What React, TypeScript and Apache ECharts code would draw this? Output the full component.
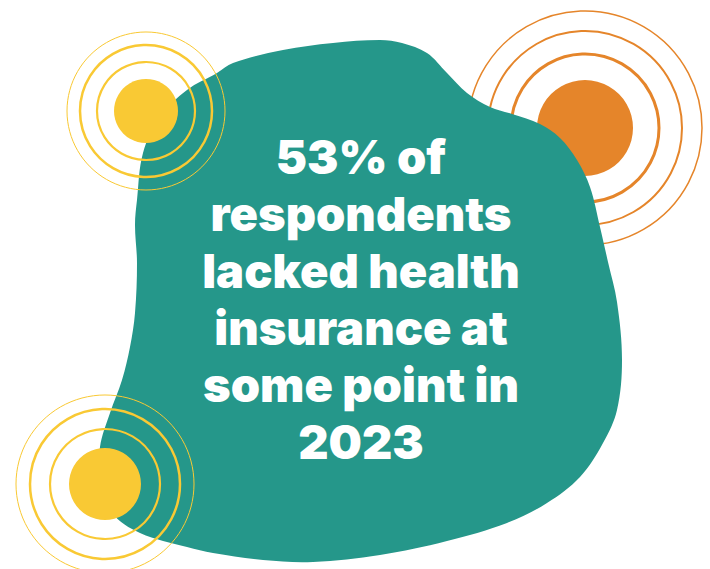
import React, { useEffect, useRef } from "react";
import * as echarts from "echarts";

// Data
const statPercent = 53;
const statYear = 2023;
const statLines = [
  `${statPercent}% of`,
  "respondents",
  "lacked health",
  "insurance at",
  "some point in",
  `${statYear}`,
];

// Blob outline (shape)
const blobOutline: number[][] = [
  [137, 200], [143, 153], [160, 117], [187, 90], [217, 73], [233, 63],
  [283, 50], [333, 43], [380, 40], [402, 43], [427, 53], [447, 73],
  [467, 93], [490, 107], [512, 114], [540, 124], [560, 138], [577, 160],
  [590, 187], [600, 227], [608, 262], [617, 302], [622, 360], [617, 410],
  [603, 443], [580, 477], [547, 503], [507, 523], [447, 541], [380, 555],
  [313, 562], [263, 560], [213, 553], [187, 547], [140, 533], [112, 513],
  [100, 482], [100, 447], [110, 413], [122, 380], [130, 347], [135, 313],
  [137, 263], [135, 225],
];

const TEAL = "#25978A";
const YELLOW = "#F9C934";
const ORANGE = "#E5852A";

type Burst = { cx: number; cy: number; r: number; rings: [number, number][]; color: string };

const orangeBurst: Burst = {
  cx: 585, cy: 128, r: 48, color: ORANGE,
  rings: [[74, 3], [97, 2], [117, 1.5]],
};
const yellowTop: Burst = {
  cx: 146, cy: 111, r: 32, color: YELLOW,
  rings: [[49, 2.2], [66, 2.5], [79, 1]],
};
const yellowBottom: Burst = {
  cx: 105, cy: 484, r: 36, color: YELLOW,
  rings: [[55, 2.2], [75, 2.5], [89, 1]],
};

function burstElements(b: Burst) {
  const els: any[] = [
    { type: "circle", shape: { cx: b.cx, cy: b.cy, r: b.r }, style: { fill: b.color } },
  ];
  b.rings.forEach(([r, lw]) => {
    els.push({
      type: "circle",
      shape: { cx: b.cx, cy: b.cy, r },
      style: { fill: "none", stroke: b.color, lineWidth: lw },
    });
  });
  return els;
}

export default function App() {
  const ref = useRef<HTMLDivElement>(null);
  useEffect(() => {
    if (!ref.current) return;
    const chart = echarts.init(ref.current, undefined, { renderer: "svg" });
    const graphic: any[] = [
      ...burstElements(orangeBurst),
      {
        type: "polygon",
        shape: { points: blobOutline, smooth: 0.35 },
        style: { fill: TEAL },
      },
      ...burstElements(yellowTop),
      ...burstElements(yellowBottom),
      ...statLines.map((line, i) => ({
        type: "text",
        x: 361,
        y: 156 + i * 57,
        style: {
          text: line,
          fill: "#ffffff",
          font: "900 47px Inter, 'Open Sans', sans-serif",
          align: "center",
          verticalAlign: "middle",
        },
      })),
    ];
    chart.setOption({ animation: false, graphic });
    return () => chart.dispose();
  }, []);
  return (
    <div
      ref={ref}
      style={{ position: "fixed", left: 0, top: 0, width: 710, height: 569, background: "#fff" }}
    />
  );
}
